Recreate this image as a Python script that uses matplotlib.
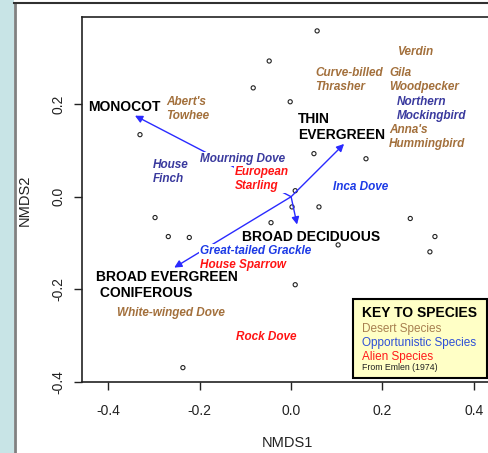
import matplotlib.pyplot as plt
from matplotlib.patches import Rectangle
from matplotlib.lines import Line2D

plt.rcParams['font.family'] = ['Liberation Sans', 'DejaVu Sans']

# site scores (NMDS1, NMDS2)
site_x = [-0.331, 0.057, -0.048, -0.083, -0.002, -0.298, -0.269, -0.223, 0.050, 0.009,
          0.002, 0.061, -0.044, 0.103, 0.164, 0.261, 0.315, 0.304, 0.009, -0.237]
site_y = [0.134, 0.358, 0.293, 0.235, 0.205, -0.045, -0.086, -0.088, 0.093, 0.013,
          -0.022, -0.022, -0.056, -0.104, 0.082, -0.047, -0.086, -0.119, -0.190, -0.369]

# habitat vectors
vec_names = ['MONOCOT', 'THIN\nEVERGREEN', 'BROAD DECIDUOUS', 'BROAD EVERGREEN\n CONIFEROUS']
vec_x = [-0.342, 0.116, 0.013, -0.256]
vec_y = [0.175, 0.114, -0.060, -0.153]

# species labels and their group
species = ["Abert's\nTowhee", 'House\nFinch', 'Mourning Dove', 'European\nStarling',
           'Inca Dove', 'Curve-billed\nThrasher', 'Gila\nWoodpecker', 'Verdin',
           'Northern\nMockingbird', "Anna's\nHummingbird", 'Great-tailed Grackle',
           'House Sparrow', 'White-winged Dove', 'Rock Dove']
group = ['desert', 'navy', 'navy', 'alien', 'opp', 'desert', 'desert', 'desert',
         'navy', 'desert', 'opp', 'alien', 'desert', 'alien']

# label placement (left edge, vertical centre)
sp_pos = [(-0.274, 0.190), (-0.304, 0.054), (-0.199, 0.082), (-0.123, 0.038),
          (0.092, 0.022), (0.053, 0.252), (0.215, 0.252), (0.232, 0.313),
          (0.232, 0.190), (0.215, 0.129), (-0.199, -0.117), (-0.199, -0.147),
          (-0.381, -0.250), (-0.120, -0.302)]
vec_pos = [(-0.445, 0.194), (0.015, 0.151), (-0.107, -0.086), (-0.427, -0.190)]

colors = {'desert': '#a3703c', 'navy': '#3a3a9e', 'opp': '#1c3ae6', 'alien': '#ff1414'}

fig = plt.figure(figsize=(4.88, 4.53), dpi=100)
fig.patch.set_facecolor('white')
fig.patches.append(Rectangle((0, 0), 14 / 488, 1, transform=fig.transFigure,
                             facecolor='#c8e4e6', edgecolor='none'))
fig.lines.append(Line2D([14.5 / 488, 14.5 / 488], [0, 1 - 3 / 453], transform=fig.transFigure,
                        color='#808080', lw=2))
fig.lines.append(Line2D([14 / 488, 1], [1 - 3 / 453, 1 - 3 / 453], transform=fig.transFigure,
                        color='#303030', lw=1.5))

ax = fig.add_axes([82 / 488, 1 - 382 / 453, 410 / 488, 365 / 453])
ax.set_xlim(-0.458, 0.440)
ax.set_ylim(-0.399, 0.388)

ax.scatter(site_x, site_y, s=9, facecolors='none', edgecolors='#222222', linewidths=0.8, zorder=2)

for x, y in zip(vec_x, vec_y):
    ax.annotate('', xy=(x, y), xytext=(0, 0),
                arrowprops=dict(arrowstyle='-|>', color='#2a2aff', lw=1.0,
                                mutation_scale=11, shrinkA=0, shrinkB=0), zorder=3)

for name, (x, y) in zip(vec_names, vec_pos):
    ax.text(x, y, name, ha='left', va='center', fontsize=10, fontweight='bold',
            color='black', linespacing=1.18, zorder=5)

for name, g, (x, y) in zip(species, group, sp_pos):
    ax.text(x, y, name, ha='left', va='center', fontsize=8.5, fontweight='bold',
            fontstyle='italic', color=colors[g], linespacing=1.22, zorder=4,
            bbox=dict(boxstyle='square,pad=0.1', facecolor='white', edgecolor='none'))

# key box
ax.add_patch(Rectangle((0.136, -0.391), 0.293, 0.171, facecolor='#ffffc6',
                       edgecolor='black', lw=1.5, zorder=6))
ax.text(0.156, -0.250, 'KEY TO SPECIES', fontsize=10, fontweight='bold', va='center', zorder=7)
ax.text(0.156, -0.285, 'Desert Species', fontsize=8.5, color='#a88050', va='center', zorder=7)
ax.text(0.156, -0.315, 'Opportunistic Species', fontsize=8.5, color='#2e50d6', va='center', zorder=7)
ax.text(0.156, -0.345, 'Alien Species', fontsize=8.5, color='#ff1a1a', va='center', zorder=7)
ax.text(0.156, -0.369, 'From Emlen (1974)', fontsize=6.3, color='#222222', va='center', zorder=7)

ax.set_xticks([-0.4, -0.2, 0.0, 0.2, 0.4])
ax.set_xticklabels(['-0.4', '-0.2', '0.0', '0.2', '0.4'])
ax.set_yticks([-0.4, -0.2, 0.0, 0.2])
ax.set_yticklabels(['-0.4', '-0.2', '0.0', '0.2'], rotation=90, va='center')
ax.tick_params(axis='x', length=6, width=1, pad=10, labelsize=10, colors='#222222')
ax.tick_params(axis='y', length=6, width=1, pad=6, labelsize=10, colors='#222222')
for s in ax.spines.values():
    s.set_linewidth(1.2)
    s.set_color('#222222')

ax.set_xlabel('NMDS1', fontsize=10.5, color='#222222')
ax.set_ylabel('NMDS2', fontsize=10.5, color='#222222')
ax.xaxis.set_label_coords((287 - 82) / 410, -(436 - 382) / 365)
ax.yaxis.set_label_coords(-(82 - 32) / 410, (382 - 200) / 365)

fig.savefig('out.png', dpi=100)
